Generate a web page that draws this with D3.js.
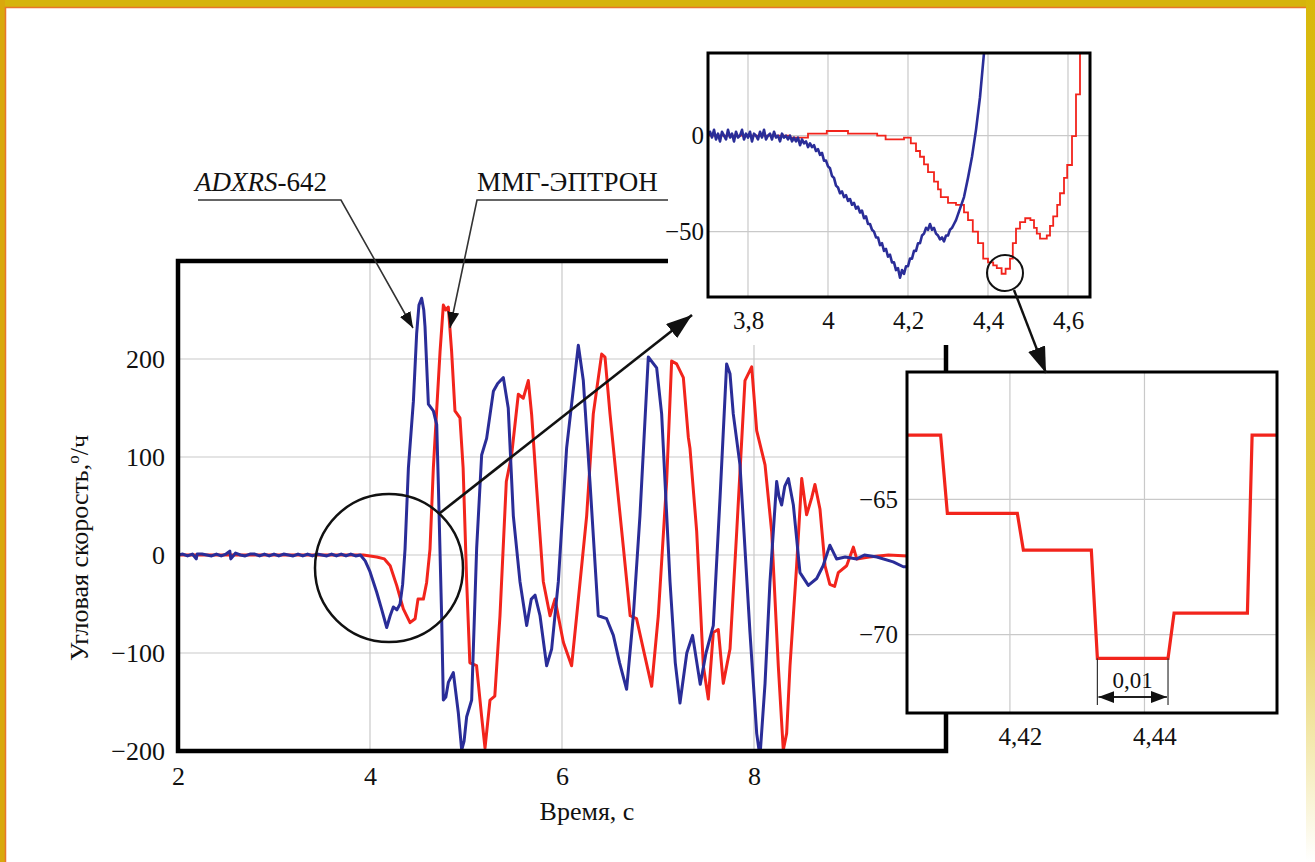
<!DOCTYPE html>
<html><head><meta charset="utf-8">
<script src="https://cdn.jsdelivr.net/npm/d3@7"></script>
<style>
html,body{margin:0;padding:0;background:#fff;}
svg{display:block;font-family:"Liberation Serif","Times New Roman",serif;}
svg text{font-family:"Liberation Serif","Times New Roman",serif;}
</style></head>
<body>
<svg id="c" width="1315" height="862"></svg>
<script>
// ---------- DATA ----------
const mainXTicks = [2, 4, 6, 8];
const mainYTicks = [-200, -100, 0, 100, 200];
const insetXTicks = [3.8, 4, 4.2, 4.4, 4.6];
const insetYTicks = [0, -50];
const zoomXTicks = [4.42, 4.44];
const zoomYTicks = [-65, -70];
const seriesNames = ["ADXRS-642", "ММГ-ЭПТРОН"];

// ADXRS-642 (blue), main chart: [time s, deg/h]
const blueMain = [[2.0,0],[2.05,1],[2.1,-1],[2.15,1],[2.19,-4],[2.2,1],[2.25,1],[2.3,0],[2.35,-1],[2.4,1],[2.45,-1],[2.5,1],[2.54,4],[2.55,-4],[2.6,2],[2.65,0],[2.7,-1],[2.75,1],[2.8,1],[2.85,-1],[2.9,1],[2.95,-1],[3.0,1],[3.05,-1],[3.1,1],[3.15,0],[3.2,-1],[3.25,1],[3.3,-1],[3.35,1],[3.4,-1],[3.45,1],[3.5,0],[3.55,-1],[3.6,1],[3.65,-1],[3.7,1],[3.75,-1],[3.8,1],[3.85,-1],[3.9,0],
 [3.95,-6],[4.0,-17],[4.07,-38],[4.12,-55],[4.174,-74],[4.21,-62],[4.243,-53],[4.28,-56],[4.313,-50],[4.34,-30],[4.365,6],[4.4,89],[4.452,157],[4.486,226],[4.51,255],[4.538,262],[4.56,250],[4.573,233],[4.608,154],[4.66,147],[4.695,133],[4.712,72],[4.746,-62],[4.764,-148],[4.79,-145],[4.816,-130],[4.868,-120],[4.92,-161],[4.955,-199],[4.98,-190],[5.007,-165],[5.059,-148],[5.111,7],[5.163,102],[5.215,119],[5.285,167],[5.33,175],[5.389,181],[5.44,150],[5.493,40],[5.562,-27],[5.632,-72],[5.68,-45],[5.719,-41],[5.771,-62],[5.84,-113],[5.892,-96],[5.962,-27],[6.048,109],[6.17,214],[6.222,178],[6.291,75],[6.378,-62],[6.465,-65],[6.535,-82],[6.6,-110],[6.673,-137],[6.743,-62],[6.812,40],[6.899,202],[6.986,191],[7.038,144],[7.125,-27],[7.18,-110],[7.229,-151],[7.3,-100],[7.36,-82],[7.44,-132],[7.5,-100],[7.576,-72],[7.646,58],[7.715,195],[7.75,185],[7.784,144],[7.854,92],[7.958,-79],[8.028,-182],[8.062,-206],[8.115,-131],[8.166,-28],[8.236,75],[8.26,60],[8.288,51],[8.32,70],[8.358,78],[8.41,51],[8.479,-18],[8.566,-31],[8.653,-24],[8.72,-11],[8.79,10],[8.86,-4],[8.95,-2],[9.07,-4],[9.15,0],[9.28,-2],[9.45,-7],[9.555,-12],[9.6,-12]];

// ММГ-ЭПТРОН (red), main chart
const redMain = [[2.0,0],[3.5,0],[3.93,0],[4.07,-2],[4.15,-4],[4.21,-11],[4.278,-31],[4.347,-55],[4.417,-69],[4.47,-65],[4.5,-45],[4.556,-45],[4.59,-28],[4.625,6],[4.66,89],[4.73,208],[4.764,255],[4.79,250],[4.816,253],[4.85,208],[4.885,147],[4.937,140],[4.97,89],[5.007,-27],[5.04,-110],[5.11,-113],[5.163,-165],[5.198,-197],[5.25,-148],[5.30,-144],[5.354,-62],[5.42,75],[5.475,102],[5.545,164],[5.597,160],[5.649,178],[5.684,143],[5.736,68],[5.805,-27],[5.875,-62],[5.927,-45],[6.014,-89],[6.1,-113],[6.153,-62],[6.257,40],[6.326,144],[6.413,205],[6.448,202],[6.5,144],[6.57,75],[6.64,7],[6.71,-62],[6.777,-65],[6.847,-96],[6.934,-134],[7.003,-62],[7.09,75],[7.142,198],[7.194,195],[7.264,181],[7.316,120],[7.333,109],[7.403,24],[7.472,-113],[7.524,-147],[7.576,-79],[7.628,-76],[7.68,-131],[7.75,-96],[7.82,24],[7.906,178],[7.976,192],[8.028,127],[8.115,92],[8.184,24],[8.253,-113],[8.305,-199],[8.34,-182],[8.375,-113],[8.444,-11],[8.497,78],[8.548,41],[8.6,58],[8.635,72],[8.687,47],[8.74,-11],[8.79,-30],[8.84,-32],[8.878,-18],[8.965,-11],[9.035,8],[9.07,-4],[9.2,-2],[9.4,0],[9.6,-1]];

// Upper inset (3.7 .. 4.65 s)
const blueInset = [[3.700,0],[3.705,2],[3.710,-1],[3.715,3],[3.720,-2],[3.725,1],[3.730,-3],[3.735,2],[3.740,0],[3.745,-2],[3.750,3],[3.755,-1],[3.760,1],[3.765,-3],[3.770,2],[3.775,-1],[3.780,0],[3.785,3],[3.790,-2],[3.795,1],[3.800,-1],[3.805,2],[3.810,-3],[3.815,1],[3.820,0],[3.825,-2],[3.830,2],[3.835,-1],[3.840,3],[3.845,-2],[3.850,0],[3.855,1],[3.860,-2],[3.865,2],[3.870,-1],[3.875,0],[3.880,-3],[3.885,1],[3.890,-1],[3.895,0],[3.900,-2],
 [3.905,0],[3.91,-3],[3.915,-1],[3.92,-3],[3.925,-1],[3.93,-5],[3.935,-2],[3.94,-4],[3.945,-3],[3.95,-6],[3.955,-4],[3.96,-6],[3.965,-5],[3.97,-8],[3.975,-7],[3.98,-10],[3.985,-9],[3.99,-13],[3.995,-13],[4.00,-16],[4.005,-17],[4.01,-21],[4.015,-22],[4.02,-26],[4.025,-27],[4.03,-30],[4.035,-29],[4.04,-32],[4.045,-31],[4.05,-34],[4.055,-33],[4.06,-36],[4.065,-35],[4.07,-38],[4.075,-37],[4.08,-40],[4.085,-39],[4.09,-43],[4.095,-42],[4.10,-46],[4.105,-46],[4.11,-49],[4.115,-50],[4.12,-53],[4.125,-53],[4.13,-57],[4.135,-56],[4.14,-60],[4.145,-59],[4.15,-63],[4.155,-62],[4.16,-66],[4.165,-66],[4.17,-70],[4.175,-69],[4.18,-74],[4.185,-70],[4.19,-72],[4.195,-68],[4.20,-68],[4.205,-64],[4.21,-64],[4.215,-60],[4.22,-60],[4.225,-56],[4.23,-56],[4.235,-52],[4.24,-51],[4.245,-48],[4.25,-49],[4.255,-46],[4.26,-49],[4.265,-48],[4.27,-51],[4.275,-52],[4.28,-54],[4.285,-53],[4.29,-55],[4.295,-52],[4.30,-52],[4.305,-49],[4.31,-48],[4.315,-46],[4.32,-44],[4.325,-41],[4.33,-38],[4.335,-35],[4.34,-32],[4.35,-22],[4.36,-11],[4.37,3],[4.38,20],[4.39,43],[4.40,60]];
const redInset = [[3.70,0],[3.905,-1],[3.95,1],[3.997,2.4],[4.05,1],[4.123,0],[4.144,-2],[4.19,-1],[4.207,-4],[4.22,-8],[4.23,-11],[4.24,-15],[4.25,-19],[4.265,-24],[4.275,-28],[4.282,-32],[4.3,-35],[4.32,-36],[4.34,-40],[4.35,-44],[4.362,-50],[4.375,-56],[4.388,-64],[4.40,-66],[4.413,-67.5],[4.422,-69],[4.434,-71.9],[4.444,-69.3],[4.455,-64],[4.462,-56],[4.47,-48.4],[4.48,-45],[4.493,-43],[4.506,-44],[4.515,-48],[4.522,-51],[4.53,-53.6],[4.547,-52],[4.555,-47],[4.563,-42],[4.573,-36],[4.58,-30],[4.59,-22],[4.598,-15.3],[4.61,-0.3],[4.62,21.5],[4.63,43],[4.64,60]];

// Lower inset (red quantisation steps)
const redZoom = [[4.4047,-62.63],[4.4097,-62.63],[4.4107,-65.52],[4.4211,-65.52],[4.4220,-66.88],[4.4321,-66.88],[4.4330,-70.87],[4.4435,-70.87],[4.4444,-69.2],[4.4553,-69.2],[4.4560,-62.63],[4.4597,-62.63]];
const stepLabel = "0,01";
const stepSpan = [4.4330, 4.4435];
const stepArrowV = -72.3;

// ---------- DRAW ----------
const BLUE = "#2a2d98", RED = "#f2241c", GRID = "#c9c9c9";
const FONT = "'Liberation Serif','Times New Roman',serif";
const svg = d3.select("#c").attr("font-family", FONT);
const defs = svg.append("defs");
const fmt = d => String(d).replace(".", ",").replace("-", "\u2212");

// border
const g0 = defs.append("linearGradient").attr("id","rg").attr("x1",0).attr("y1",0).attr("x2",0).attr("y2",1);
g0.append("stop").attr("offset","0").attr("stop-color","#d8b80a");
g0.append("stop").attr("offset","0.7").attr("stop-color","#e6cf50");
g0.append("stop").attr("offset","1").attr("stop-color","#ffffff");
svg.append("rect").attr("x",0).attr("y",0).attr("width",1315).attr("height",862).attr("fill","#fff");
svg.append("rect").attr("x",0).attr("y",0).attr("width",1315).attr("height",7).attr("fill","#d6b40c");
svg.append("rect").attr("x",0).attr("y",0).attr("width",5).attr("height",862).attr("fill","#d9a80c");
svg.append("rect").attr("x",1306).attr("y",0).attr("width",9).attr("height",862).attr("fill","url(#rg)");
svg.append("path").attr("d","M5.5,862V7.5H1306").attr("fill","none").attr("stroke","#e8752a").attr("stroke-width",1.5);

// arrow markers
function marker(id, w, h) {
  defs.append("marker").attr("id", id).attr("viewBox", `0 0 ${w} ${h}`)
    .attr("refX", w).attr("refY", h/2).attr("markerWidth", w).attr("markerHeight", h)
    .attr("markerUnits", "userSpaceOnUse").attr("orient", "auto")
    .append("path").attr("d", `M0,0L${w},${h/2}L0,${h}Z`).attr("fill", "#111");
}
marker("ah", 26, 18);
marker("ahs", 16, 12);

function styleAxis(g, size) {
  g.attr("font-family", FONT);
  g.select(".domain").remove();
  g.selectAll("text").attr("font-size", size).attr("font-family", FONT).attr("fill", "#111");
}

// ===== main chart =====
const x = d3.scaleLinear().domain([2, 10]).range([178, 946]);
const y = d3.scaleLinear().domain([-200, 300]).range([751, 261]);
defs.append("clipPath").attr("id","cm").append("rect").attr("x",178).attr("y",261).attr("width",768).attr("height",490);

const gm = svg.append("g");
gm.selectAll("line.vg").data(mainXTicks.slice(1)).join("line")
  .attr("x1", d=>x(d)).attr("x2", d=>x(d)).attr("y1", 261).attr("y2", 751)
  .attr("stroke", GRID).attr("stroke-width", 1.2);
gm.selectAll("line.hg").data(mainYTicks.slice(1)).join("line")
  .attr("x1", 178).attr("x2", 946).attr("y1", d=>y(d)).attr("y2", d=>y(d))
  .attr("stroke", GRID).attr("stroke-width", 1.2);

const lineM = d3.line().x(d=>x(d[0])).y(d=>y(d[1]));
const gl = gm.append("g").attr("clip-path","url(#cm)");
gl.append("path").datum(redMain).attr("d", lineM).attr("fill","none").attr("stroke",RED).attr("stroke-width",3).attr("stroke-linejoin","round");
gl.append("path").datum(blueMain).attr("d", lineM).attr("fill","none").attr("stroke",BLUE).attr("stroke-width",3).attr("stroke-linejoin","round");

// axes
styleAxis(gm.append("g").attr("transform","translate(178,0)")
  .call(d3.axisLeft(y).tickValues(mainYTicks).tickSize(0).tickPadding(13).tickFormat(fmt)), 26);
styleAxis(gm.append("g").attr("transform","translate(0,751)")
  .call(d3.axisBottom(x).tickValues(mainXTicks).tickSize(0).tickPadding(16).tickFormat(fmt)), 26);

// frame
gm.append("path").attr("d", `M668,${y(300)}H178V${y(-200)}H946V345`)
  .attr("fill","none").attr("stroke","#000").attr("stroke-width",4.5);

// axis titles
svg.append("text").attr("x",587).attr("y",820).attr("text-anchor","middle")
  .attr("font-size",26).attr("fill","#111").text("Время, с");
const yt = svg.append("text").attr("transform","translate(88,548) rotate(-90)").attr("text-anchor","middle")
  .attr("font-size",26).attr("fill","#111");
yt.append("tspan").text("Угловая скорость,");
yt.append("tspan").attr("dy",-9).attr("font-size",17).text("о");
yt.append("tspan").attr("dy",9).text("/ч");

// circle around the start of motion
svg.append("circle").attr("cx",389).attr("cy",568).attr("r",74).attr("fill","none").attr("stroke","#111").attr("stroke-width",2.5);

// series labels
const l1 = svg.append("text").attr("x",195).attr("y",191).attr("font-size",27).attr("fill","#111");
l1.append("tspan").attr("font-style","italic").text(seriesNames[0].split("-")[0]);
l1.append("tspan").text("-" + seriesNames[0].split("-")[1]);
svg.append("text").attr("x",477).attr("y",191).attr("font-size",27).attr("fill","#111").text(seriesNames[1]);
svg.append("path").attr("d","M198,200H341L413,328").attr("fill","none").attr("stroke","#333").attr("stroke-width",1.6).attr("marker-end","url(#ahs)");
svg.append("path").attr("d","M672,200H477L450,328").attr("fill","none").attr("stroke","#333").attr("stroke-width",1.6).attr("marker-end","url(#ahs)");

// ===== upper inset =====
const xi = d3.scaleLinear().domain([3.7, 4.655]).range([708, 1090]);
const yi = d3.scaleLinear().domain([-84, 43]).range([297, 53]);
svg.append("rect").attr("x",668).attr("y",20).attr("width",440).attr("height",325).attr("fill","#fff");
defs.append("clipPath").attr("id","ci").append("rect").attr("x",708).attr("y",53).attr("width",382).attr("height",244);
const gi = svg.append("g");
gi.selectAll("line.v").data(insetXTicks).join("line")
  .attr("x1",d=>xi(d)).attr("x2",d=>xi(d)).attr("y1",53).attr("y2",297).attr("stroke",GRID).attr("stroke-width",1.2);
gi.selectAll("line.h").data(insetYTicks).join("line")
  .attr("x1",708).attr("x2",1090).attr("y1",d=>yi(d)).attr("y2",d=>yi(d)).attr("stroke",GRID).attr("stroke-width",1.2);
const gil = gi.append("g").attr("clip-path","url(#ci)");
gil.append("path").datum(redInset).attr("d", d3.line().x(d=>xi(d[0])).y(d=>yi(d[1])).curve(d3.curveStepAfter))
  .attr("fill","none").attr("stroke",RED).attr("stroke-width",1.8);
gil.append("path").datum(blueInset).attr("d", d3.line().x(d=>xi(d[0])).y(d=>yi(d[1])))
  .attr("fill","none").attr("stroke",BLUE).attr("stroke-width",2.6).attr("stroke-linejoin","round");
styleAxis(gi.append("g").attr("transform","translate(0,297)")
  .call(d3.axisBottom(xi).tickValues(insetXTicks).tickSize(0).tickPadding(14).tickFormat(fmt)), 25);
styleAxis(gi.append("g").attr("transform","translate(708,0)")
  .call(d3.axisLeft(yi).tickValues(insetYTicks).tickSize(0).tickPadding(4).tickFormat(fmt)), 25);
gi.append("rect").attr("x",708).attr("y",53).attr("width",382).attr("height",244).attr("fill","none").attr("stroke","#000").attr("stroke-width",3);
gi.append("circle").attr("cx",1005).attr("cy",273).attr("r",18).attr("fill","none").attr("stroke","#111").attr("stroke-width",2);

// big arrow (drawn after inset backdrop)
svg.append("line").attr("x1",440).attr("y1",513).attr("x2",692).attr("y2",315)
  .attr("stroke","#111").attr("stroke-width",2.6).attr("marker-end","url(#ah)");

// ===== lower inset =====
const xz = d3.scaleLinear().domain([4.4047, 4.4597]).range([907, 1277]);
const yz = d3.scaleLinear().domain([-72.89, -60.30]).range([713, 372]);
const gz = svg.append("g");
gz.append("rect").attr("x",907).attr("y",372).attr("width",370).attr("height",341).attr("fill","#fff");
gz.selectAll("line.v").data(zoomXTicks).join("line")
  .attr("x1",d=>xz(d)).attr("x2",d=>xz(d)).attr("y1",372).attr("y2",713).attr("stroke",GRID).attr("stroke-width",1.2);
gz.selectAll("line.h").data(zoomYTicks).join("line")
  .attr("x1",907).attr("x2",1277).attr("y1",d=>yz(d)).attr("y2",d=>yz(d)).attr("stroke",GRID).attr("stroke-width",1.2);
defs.append("clipPath").attr("id","cz").append("rect").attr("x",907).attr("y",372).attr("width",370).attr("height",341);
gz.append("g").attr("clip-path","url(#cz)").append("path").datum(redZoom)
  .attr("d", d3.line().x(d=>xz(d[0])).y(d=>yz(d[1])))
  .attr("fill","none").attr("stroke",RED).attr("stroke-width",3.2).attr("stroke-linejoin","miter");
styleAxis(gz.append("g").attr("transform","translate(10,713)")
  .call(d3.axisBottom(xz).tickValues(zoomXTicks).tickSize(0).tickPadding(14).tickFormat(fmt)), 25);
styleAxis(gz.append("g").attr("transform","translate(907,0)")
  .call(d3.axisLeft(yz).tickValues(zoomYTicks).tickSize(0).tickPadding(9).tickFormat(fmt)), 25);
// 0,01 dimension
const gd = gz.append("g");
stepSpan.forEach(t => gd.append("line").attr("x1",xz(t)).attr("x2",xz(t)).attr("y1",yz(-70.87)).attr("y2",yz(stepArrowV)+8)
  .attr("stroke","#333").attr("stroke-width",1.2));
gd.append("line").attr("x1",xz(stepSpan[0])+14).attr("x2",xz(stepSpan[1])-1).attr("y1",yz(stepArrowV)).attr("y2",yz(stepArrowV))
  .attr("stroke","#111").attr("stroke-width",1.6).attr("marker-end","url(#ahs)");
gd.append("line").attr("x1",xz(stepSpan[1])-14).attr("x2",xz(stepSpan[0])+1).attr("y1",yz(stepArrowV)).attr("y2",yz(stepArrowV))
  .attr("stroke","#111").attr("stroke-width",1.6).attr("marker-end","url(#ahs)");
gd.append("text").attr("x",(xz(stepSpan[0])+xz(stepSpan[1]))/2).attr("y",688).attr("text-anchor","middle")
  .attr("font-size",23).attr("fill","#111").text(stepLabel);
gz.append("rect").attr("x",907).attr("y",372).attr("width",370).attr("height",341).attr("fill","none").attr("stroke","#000").attr("stroke-width",3);

// small arrow
svg.append("line").attr("x1",1014).attr("y1",290).attr("x2",1046).attr("y2",373)
  .attr("stroke","#111").attr("stroke-width",2.4).attr("marker-end","url(#ah)");
</script>
</body></html>
